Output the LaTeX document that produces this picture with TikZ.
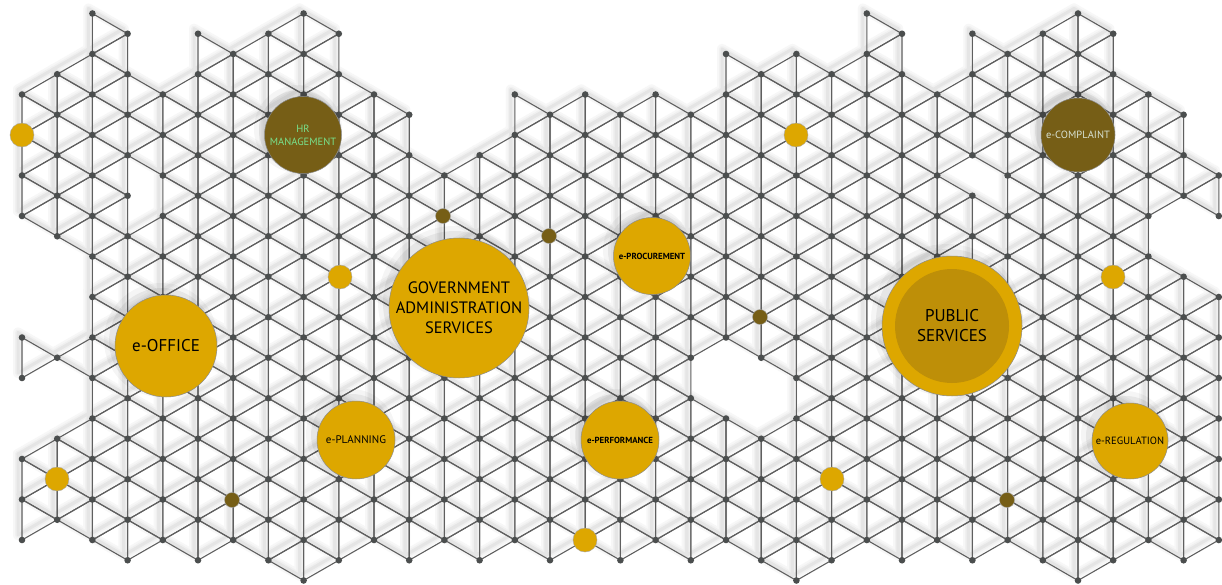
\documentclass[tikz,border=0pt]{standalone}
\usepackage{fontspec}
\setmainfont{PT Sans}
\definecolor{gold}{RGB}{221,167,0}
\definecolor{golddark}{RGB}{190,143,8}
\definecolor{olive}{RGB}{118,94,22}
\definecolor{meshgray}{RGB}{95,95,95}
\definecolor{dotgray}{RGB}{75,78,78}
\definecolor{hrgreen}{RGB}{120,225,140}
\definecolor{compl}{RGB}{215,225,210}

\newcount\rrc
\newcommand\addrun[3]{\rrc=#2\relax\loop\expandafter\gdef\csname v-#1-\the\rrc\endcsname{}\advance\rrc by 2\relax\ifnum\rrc<\numexpr#3+1\relax\repeat}
\newcommand\rmtri[3]{\expandafter\gdef\csname t-#1-#2-#3\endcsname{}}
\newcommand\rmvert[2]{\expandafter\global\expandafter\let\csname v-#1-#2\endcsname\undefined}

% columns of the lattice: column k, rows r1..r2 (step 2)
\addrun{0}{4}{10}\addrun{0}{16}{18}\addrun{0}{22}{26}
\addrun{1}{3}{11}\addrun{1}{17}{17}\addrun{1}{21}{25}
\addrun{2}{0}{26}
\addrun{3}{1}{27}
\addrun{4}{4}{26}
\addrun{5}{1}{27}
\addrun{6}{2}{26}
\addrun{7}{1}{27}
\addrun{8}{0}{28}
\addrun{9}{1}{27}
\addrun{10}{4}{26}
\addrun{11}{5}{27}
\addrun{12}{8}{26}
\addrun{13}{7}{27}
\addrun{14}{4}{26}
\addrun{15}{5}{27}
\addrun{16}{4}{26}
\addrun{17}{5}{27}
\addrun{18}{4}{26}
\addrun{19}{5}{27}
\addrun{20}{2}{26}
\addrun{21}{3}{27}
\addrun{22}{2}{28}
\addrun{23}{3}{27}
\addrun{24}{0}{26}
\addrun{25}{1}{27}
\addrun{26}{4}{26}
\addrun{27}{1}{27}
\addrun{28}{2}{26}
\addrun{29}{1}{27}
\addrun{30}{0}{28}
\addrun{31}{1}{27}
\addrun{32}{4}{26}
\addrun{33}{5}{27}
\addrun{34}{8}{10}\addrun{34}{14}{26}
% holes
\rmtri{3}{9}{1}\rmtri{4}{8}{0}\rmtri{3}{7}{1}
\rmtri{27}{7}{1}\rmtri{27}{7}{0}\rmtri{28}{8}{0}
\rmvert{21}{19}\rmvert{20}{18}
\rmvert{33}{11}

\newcommand\meshpass[2]{%
\foreach \kk in {0,...,34}{%
 \foreach \rr in {0,...,26}{%
  \pgfmathtruncatemacro\pp{mod(\kk+\rr,2)}%
  \ifnum\pp=0
   \pgfmathtruncatemacro\rb{\rr+2}%
   \pgfmathtruncatemacro\rmid{\rr+1}%
   \pgfmathtruncatemacro\kr{\kk+1}%
   \pgfmathtruncatemacro\kl{\kk-1}%
   \ifcsname v-\kk-\rr\endcsname\ifcsname v-\kk-\rb\endcsname
     \ifcsname v-\kr-\rmid\endcsname\ifcsname t-\kk-\rr-1\endcsname\else
       \draw[#1] (v-\kk-\rr) -- (v-\kk-\rb) -- (v-\kr-\rmid) -- cycle;
       \ifnum#2=1
       \expandafter\gdef\csname u-\kk-\rr\endcsname{}%
       \expandafter\gdef\csname u-\kk-\rb\endcsname{}%
       \expandafter\gdef\csname u-\kr-\rmid\endcsname{}%
       \fi
     \fi\fi
     \ifcsname v-\kl-\rmid\endcsname\ifcsname t-\kk-\rr-0\endcsname\else
       \draw[#1] (v-\kk-\rr) -- (v-\kk-\rb) -- (v-\kl-\rmid) -- cycle;
       \ifnum#2=1
       \expandafter\gdef\csname u-\kk-\rr\endcsname{}%
       \expandafter\gdef\csname u-\kk-\rb\endcsname{}%
       \expandafter\gdef\csname u-\kl-\rmid\endcsname{}%
       \fi
     \fi\fi
   \fi\fi
  \fi
 }}}

\tikzset{
  meshline/.style={draw=meshgray, line width=1.1pt, line join=round},
  shadowA/.style={draw=black!3, line width=10pt, line join=round, line cap=round},
  shadowB/.style={draw=black!6, line width=6pt, line join=round, line cap=round},
  shadowC/.style={draw=black!10, line width=3pt, line join=round, line cap=round},
  latdot/.style={fill=dotgray},
  bubble/.style={circle, draw=black!45, line width=0.5pt, fill=gold, inner sep=0pt, align=center, text=black},
  darkbubble/.style={bubble, fill=olive},
  smallgold/.style={circle, draw=black!35, line width=0.4pt, fill=gold, inner sep=0pt, minimum size=24pt},
  smallolive/.style={circle, draw=black!35, line width=0.4pt, fill=olive, inner sep=0pt, minimum size=15pt},
}

\begin{document}
\begin{tikzpicture}[x=1pt,y=-1pt]
\useasboundingbox[fill=white] (0,0) rectangle (1222,585);
\foreach \kk in {-1,...,35}{\foreach \rr in {0,...,28}{%
  \coordinate (v-\kk-\rr) at ({22+35.2*\kk},{13.5+20.25*\rr});}}
% soft shadows of the mesh
\begin{scope}[transform canvas={shift={(-4,-5)}}]
  \meshpass{shadowA}{0}
  \meshpass{shadowB}{0}
  \meshpass{shadowC}{0}
\end{scope}
% mesh
\meshpass{meshline}{1}
% lattice dots
\foreach \kk in {0,...,34}{\foreach \rr in {0,...,28}{%
  \ifcsname u-\kk-\rr\endcsname\fill[latdot] (v-\kk-\rr) circle (3.3);\fi}}

% circle shadows (translucent)
\foreach \cx/\cy/\cr in {166/346/51, 459/308/70, 952/326/70, 303/135/38, 1078/135/37, 652/256/38, 620/440/39, 1130/441/38, 356/440/39}{
  \fill[black, opacity=0.04] (\cx-5,\cy-6) circle (\cr+6);
  \fill[black, opacity=0.06] (\cx-4,\cy-5) circle (\cr+2);
}

% big bubbles
\node[bubble, minimum size=102pt, font=\fontsize{17}{20}\selectfont] (office) at (166,346) {e-OFFICE};
\node[bubble, minimum size=140pt, font=\fontsize{16.5}{20}\selectfont] (gov) at (459,308) {GOVERNMENT\\ADMINISTRATION\\SERVICES};
\node[bubble, minimum size=140pt] (pubouter) at (952,326) {};
\node[circle, fill=golddark, inner sep=0pt, minimum size=114pt, align=center, text=black, font=\fontsize{17}{20}\selectfont] (public) at (952,326) {PUBLIC\\SERVICES};
\node[darkbubble, minimum size=77pt, text=hrgreen, font=\fontsize{10.5}{13}\selectfont] (hr) at (303,135) {HR\\MANAGEMENT};
\node[darkbubble, minimum size=74pt, text=compl, font=\fontsize{10.5}{12}\selectfont] (complaint) at (1078,135) {e-COMPLAINT};
\node[bubble, minimum size=77pt, font=\fontsize{8.8}{10}\selectfont\bfseries] (procure) at (652,256) {e-PROCUREMENT};
\node[bubble, minimum size=78pt, font=\fontsize{8.8}{10}\selectfont\bfseries] (perform) at (620,440) {e-PERFORMANCE};
\node[bubble, minimum size=76pt, font=\fontsize{10.5}{12}\selectfont] (regul) at (1130,441) {e-REGULATION};
\node[bubble, minimum size=78pt, font=\fontsize{11}{12}\selectfont] (plan) at (356,440) {e-PLANNING};

% small accent dots
\foreach \n/\cx/\cy in {g1/22/135, g2/340/277, g3/796/135, g4/1113/277, g5/57/479, g6/832/479, g7/585/540}{
  \node[smallgold] (\n) at (\cx,\cy) {};}
\foreach \n/\cx/\cy in {o1/443/216, o2/549/236, o3/760/317, o4/232/500, o5/1007/500}{
  \node[smallolive] (\n) at (\cx,\cy) {};}
\end{tikzpicture}
\end{document}
